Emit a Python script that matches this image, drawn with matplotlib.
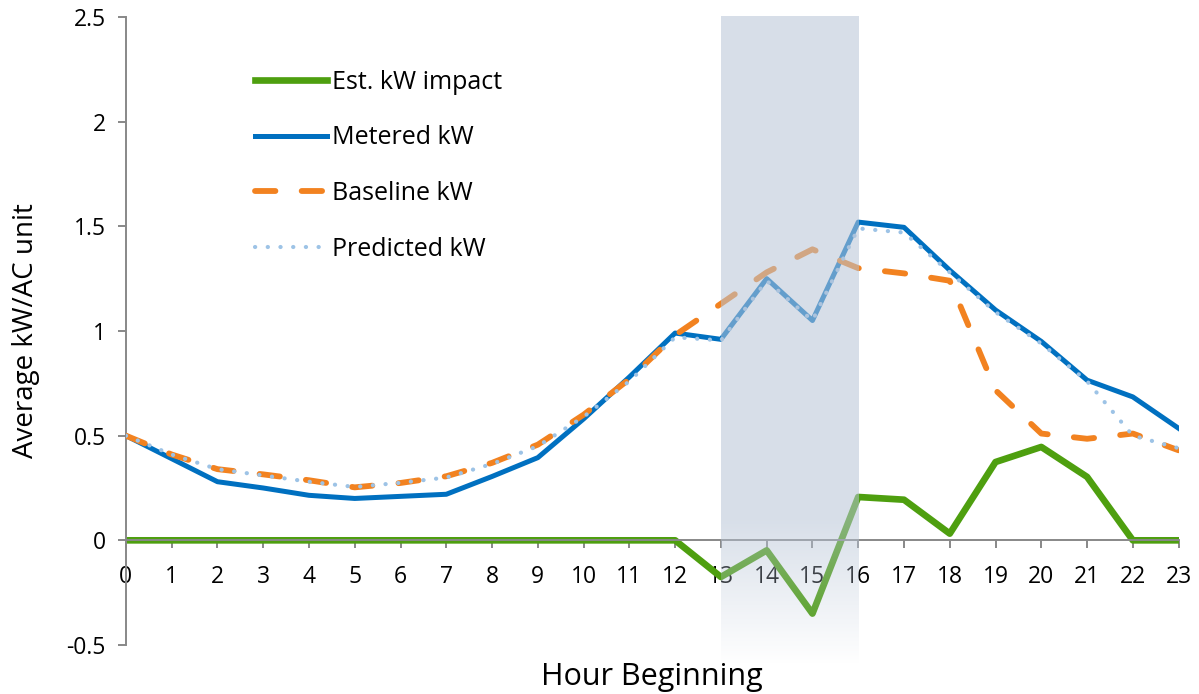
from matplotlib import pyplot as plt
from matplotlib.ticker import FixedLocator
import numpy

plt.rcParams['font.family'] = ['Open Sans', 'DejaVu Sans']

hours = list(range(24))
metered = [0.50, 0.39, 0.28, 0.25, 0.215, 0.20, 0.21, 0.22, 0.305, 0.395, 0.58, 0.78,
           0.99, 0.96, 1.25, 1.05, 1.52, 1.495, 1.29, 1.10, 0.95, 0.765, 0.685, 0.535]
baseline = [0.50, 0.41, 0.34, 0.315, 0.287, 0.253, 0.274, 0.306, 0.37, 0.457, 0.60, 0.77,
            0.98, 1.13, 1.28, 1.39, 1.30, 1.275, 1.24, 0.717, 0.51, 0.485, 0.51, 0.43]
predicted = [0.50, 0.41, 0.34, 0.31, 0.28, 0.255, 0.275, 0.30, 0.365, 0.45, 0.59, 0.76,
             0.97, 0.955, 1.24, 1.05, 1.49, 1.47, 1.28, 1.09, 0.94, 0.76, 0.50, 0.44]
impact = [0, 0, 0, 0, 0, 0, 0, 0, 0, 0, 0, 0,
          0, -0.175, -0.048, -0.35, 0.207, 0.194, 0.032, 0.374, 0.446, 0.303, 0, 0]
event_start, event_end = 13, 16

fig = plt.figure(figsize=(11.99, 6.94), dpi=100)
ax = fig.add_axes([0.105, 0.0706, 0.878, 0.905])

ax.plot(hours, impact, color='#4E9F0F', lw=4.8, label='Est. kW impact', zorder=2)
ax.plot(hours, metered, color='#0070C0', lw=3.6, label='Metered kW', zorder=3)
ax.plot(hours, baseline, color='#F28220', lw=4.2, linestyle=(0, (3.5, 4.5)),
        dash_capstyle='round', label='Baseline kW', zorder=4)
ax.plot(hours, predicted, color='#9DC3E6', lw=3.0, linestyle=(0, (0.05, 3)),
        dash_capstyle='round', label='Predicted kW', zorder=4.5)

# shaded event window, fading out at the bottom
n = 200
ys = numpy.linspace(2.5, -0.6, n)
alpha = numpy.where(ys > 0.1, 0.55, 0.55 * numpy.clip((ys + 0.6) / 0.7, 0, 1))
img = numpy.zeros((n, 2, 4))
img[:, :, 0] = 0.72
img[:, :, 1] = 0.77
img[:, :, 2] = 0.84
img[:, :, 3] = alpha[:, None]
ax.imshow(img, extent=[event_start, event_end, -0.6, 2.5], aspect='auto',
          zorder=6, clip_on=False, interpolation='bilinear')

ax.set_xlim(0, 23)
ax.set_ylim(-0.5, 2.5)

ax.spines['top'].set_visible(False)
ax.spines['right'].set_visible(False)
ax.spines['bottom'].set_position(('data', 0))
for s in ('left', 'bottom'):
    ax.spines[s].set_color('#888888')
    ax.spines[s].set_linewidth(1.4)

ax.yaxis.set_major_locator(FixedLocator([-0.5, 0, 0.5, 1, 1.5, 2, 2.5]))
ax.set_yticklabels(['-0.5', '0', '0.5', '1', '1.5', '2', '2.5'])
ax.set_xticks(hours)
ax.set_xticklabels([str(h) for h in hours])
ax.tick_params(axis='both', colors='#888888', labelcolor='black', labelsize=16.5,
               length=5.5, width=1.4)
ax.tick_params(axis='x', pad=12)
ax.tick_params(axis='y', pad=9)

fig.text(33 / 1199, 1 - 331 / 694, 'Average kW/AC unit', fontsize=20, rotation=90,
         ha='center', va='baseline', rotation_mode='anchor')
fig.text(0.5 * (0.105 + 0.983), 9 / 694, 'Hour Beginning', fontsize=22, ha='center', va='baseline')

ax.legend(loc='upper left', bbox_to_anchor=(0.1225, 0.916), frameon=False, fontsize=18,
          handlelength=2.9, labelspacing=1.23, handletextpad=0.2, borderaxespad=0, borderpad=0)

fig.savefig('out.png', dpi=100)
